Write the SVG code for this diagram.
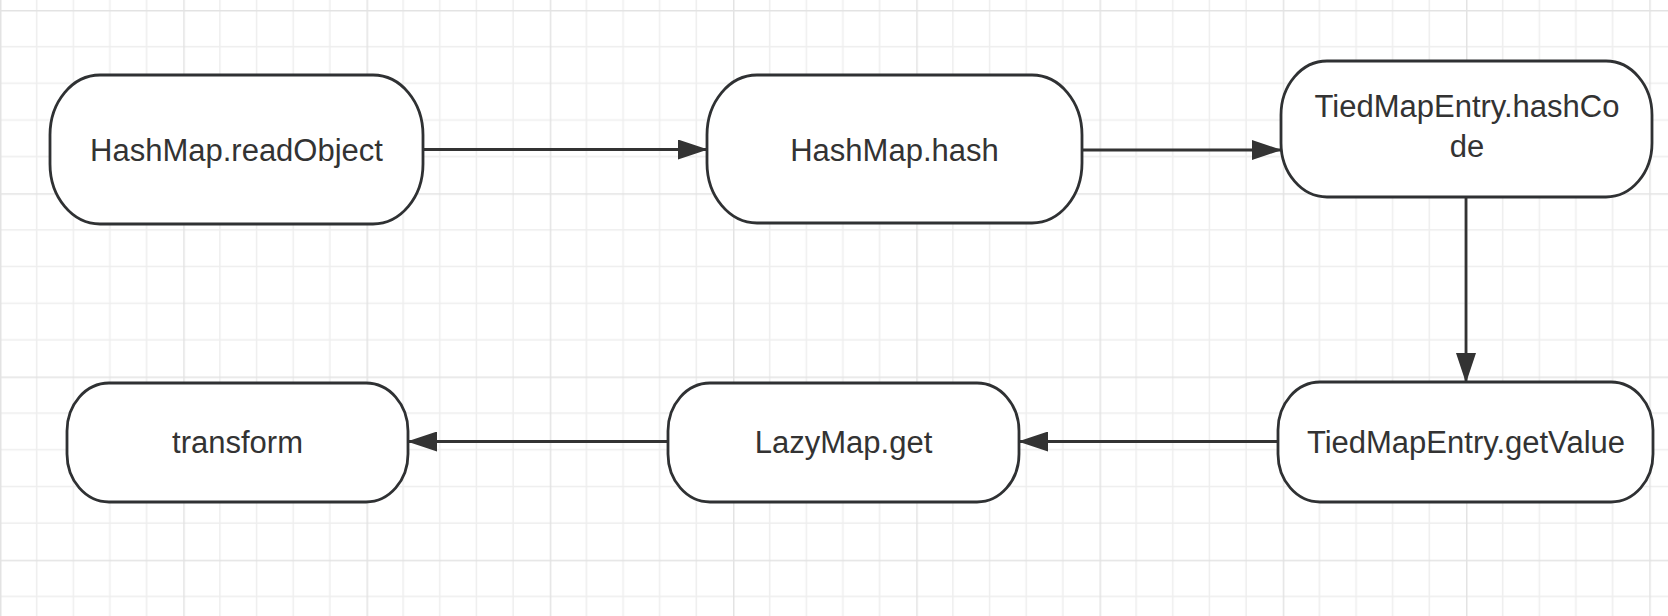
<svg xmlns="http://www.w3.org/2000/svg" width="1668" height="616" viewBox="0 0 1668 616">
<style>
.node rect{fill:#ffffff;stroke:#2f3133;stroke-width:2.8}
.node text{font-family:"Liberation Sans",Arial,sans-serif;font-size:31px;fill:#333333;text-anchor:middle}
.edge{stroke:#333333;stroke-width:2.8;fill:none;marker-end:url(#arrow)}
</style>
<defs>
<pattern id="grid" patternUnits="userSpaceOnUse" x="0" y="10" width="183.25" height="183.25">
<path d="M36.65 0V183.25M73.3 0V183.25M109.95 0V183.25M146.6 0V183.25M0 36.65H183.25M0 73.3H183.25M0 109.95H183.25M0 146.6H183.25" stroke="#eeeeee" stroke-width="1.5" fill="none"/>
<path d="M0.75 0V183.25M0 0.75H183.25" stroke="#e3e3e3" stroke-width="1.5" fill="none"/>
</pattern>
<marker id="arrow" markerUnits="userSpaceOnUse" markerWidth="30" markerHeight="20" refX="29" refY="10" orient="auto">
<path d="M0 0L30 10L0 20Z" fill="#333333"/>
</marker>
</defs>
<rect width="1668" height="616" fill="#ffffff"/>
<rect width="1668" height="616" fill="url(#grid)"/>
<g id="connectors">
<path class="edge" d="M423 149.5H707"/>
<path class="edge" d="M1082 150H1281"/>
<path class="edge" d="M1466 197V382"/>
<path class="edge" d="M1278 441.5H1019"/>
<path class="edge" d="M668 441.5H408"/>
</g>
<g id="node-readObject" class="node">
<rect x="50" y="75" width="373" height="149" rx="50" ry="60"/>
<text x="236.5" y="160.5">HashMap.readObject</text>
</g>
<g id="node-hash" class="node">
<rect x="707" y="75" width="375" height="148" rx="50" ry="60"/>
<text x="894.5" y="160.5">HashMap.hash</text>
</g>
<g id="node-hashCode" class="node">
<rect x="1281" y="61" width="371" height="136" rx="46" ry="54"/>
<text x="1467" y="117">TiedMapEntry.hashCo</text>
<text x="1467" y="157">de</text>
</g>
<g id="node-getValue" class="node">
<rect x="1278" y="382" width="375" height="120" rx="42" ry="48"/>
<text x="1466" y="452.5">TiedMapEntry.getValue</text>
</g>
<g id="node-lazyMapGet" class="node">
<rect x="668" y="383" width="351" height="119" rx="42" ry="48"/>
<text x="843.5" y="452.5">LazyMap.get</text>
</g>
<g id="node-transform" class="node">
<rect x="67" y="383" width="341" height="119" rx="42" ry="48"/>
<text x="237.5" y="452.5">transform</text>
</g>
</svg>
